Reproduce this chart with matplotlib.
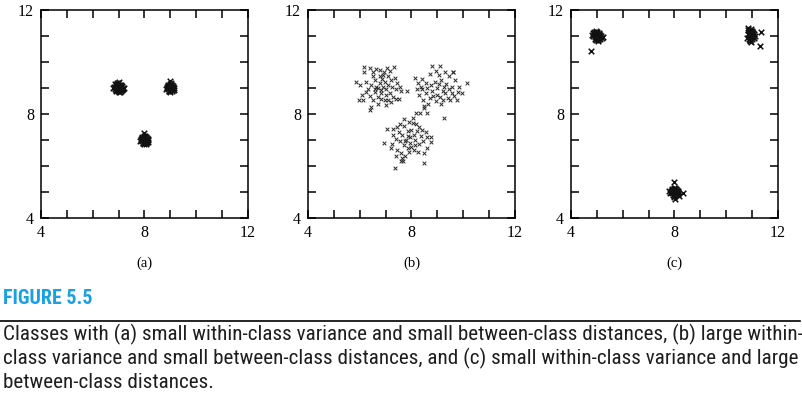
import matplotlib
matplotlib.use("Agg")
import matplotlib.pyplot as plt
from matplotlib import font_manager

# figure 5.5 - three class layouts, within-class variance vs between-class distance

# panel (a): small within-class variance, small between-class distances
a1_x = [6.85, 6.92, 7.01, 7.08, 6.97, 7.12, 6.88, 7.04, 6.95, 7.15, 6.90, 7.02, 7.09, 6.83, 6.99,
        7.06, 6.94, 7.18, 6.87, 7.03, 6.96, 7.11, 6.91, 7.00, 7.07, 6.93, 7.14, 6.98, 7.05, 6.89,
        7.22, 6.80, 7.01, 6.95, 7.10, 6.86, 7.04, 6.97, 7.13, 6.92]
a1_y = [9.05, 8.93, 9.12, 8.98, 9.02, 9.08, 8.90, 8.86, 9.15, 8.95, 9.10, 9.00, 8.88, 9.04, 8.96,
        9.07, 9.21, 9.01, 8.97, 8.92, 9.09, 9.13, 9.03, 8.84, 8.99, 9.06, 8.91, 9.18, 9.11, 8.94,
        8.99, 9.01, 9.25, 8.97, 9.04, 9.14, 9.00, 8.89, 8.95, 9.06]
a2_x = [8.95, 9.03, 8.89, 9.10, 9.00, 8.93, 9.06, 9.12, 8.97, 8.86, 9.04, 9.08, 8.91, 9.01, 8.98,
        9.15, 8.94, 9.02, 9.07, 8.88, 8.99, 9.11, 8.96, 9.05, 8.92, 9.00, 9.09, 8.84, 9.13, 8.98,
        8.95, 9.03, 9.06, 8.90, 9.01]
a2_y = [9.02, 8.95, 9.07, 9.00, 9.11, 8.88, 8.93, 9.05, 9.14, 8.99, 9.03, 8.91, 8.97, 9.20, 8.86,
        9.01, 9.09, 8.96, 9.12, 9.04, 8.92, 8.98, 9.06, 8.89, 9.13, 9.00, 9.08, 8.98, 8.94, 9.28,
        8.90, 9.10, 9.01, 9.05, 8.96]
a3_x = [7.95, 8.03, 7.89, 8.10, 8.00, 7.93, 8.06, 8.12, 7.97, 7.86, 8.04, 8.08, 7.91, 8.01, 7.98,
        8.15, 7.94, 8.02, 8.07, 7.88, 7.99, 8.11, 7.96, 8.05, 7.92, 8.00, 8.09, 7.84, 8.13, 7.98,
        7.95, 8.03, 8.06, 7.90, 8.01, 7.97, 8.04]
a3_y = [7.02, 6.95, 7.07, 7.00, 7.11, 6.88, 6.93, 7.05, 7.14, 6.99, 7.03, 6.91, 6.97, 7.16, 6.86,
        7.01, 7.09, 6.96, 7.12, 7.04, 6.92, 6.98, 7.06, 6.89, 7.13, 7.00, 7.08, 6.98, 6.94, 7.27,
        6.90, 7.10, 6.84, 7.05, 6.96, 7.01, 6.93]

# panel (b): large within-class variance, small between-class distances
b1_x = [6.17, 6.40, 6.62, 6.17, 6.80, 7.06, 7.15, 7.32, 5.87, 6.00, 6.08, 6.13, 5.98, 6.33, 6.45,
        6.58, 6.77, 6.90, 7.08, 7.22, 7.35, 6.58, 6.71, 6.84, 6.97, 7.03, 6.45, 6.38, 7.42, 7.52,
        7.61, 7.83, 7.42, 7.16, 6.64, 6.90, 7.03, 6.77, 7.10, 6.26, 6.52, 6.84, 7.29, 7.10, 6.71,
        7.23, 6.97, 6.84, 6.52, 6.26, 6.39, 6.95, 7.45, 6.70, 7.00, 6.50, 7.20, 6.60, 6.85, 7.55]
b1_y = [9.82, 9.78, 9.75, 9.62, 9.70, 9.76, 9.66, 9.82, 9.24, 9.10, 8.73, 8.55, 8.55, 8.96, 9.10,
        9.30, 9.45, 9.50, 9.45, 9.30, 9.38, 8.84, 8.65, 8.58, 8.52, 8.33, 8.28, 8.15, 8.58, 8.58,
        8.90, 8.90, 8.95, 8.82, 9.05, 9.05, 8.98, 9.18, 9.12, 8.84, 8.55, 8.80, 8.65, 8.52, 8.40,
        9.05, 9.25, 8.92, 9.45, 9.25, 8.70, 9.60, 9.18, 9.00, 8.75, 9.60, 8.45, 8.95, 9.35, 9.05]
b2_x = [8.81, 8.13, 10.13, 9.26, 8.19, 8.32, 8.61, 8.48, 9.29, 9.61, 8.70, 9.05, 9.45, 9.70, 8.40,
        8.55, 8.90, 9.15, 9.35, 9.55, 9.80, 9.95, 9.65, 9.40, 9.20, 9.10, 8.95, 8.70, 8.45, 8.30,
        8.20, 8.35, 8.60, 8.80, 9.00, 9.20, 9.45, 9.00, 8.85, 9.25, 8.65, 8.50, 9.50, 9.75, 9.60,
        8.95, 9.10, 8.25, 8.75, 9.30, 9.55, 8.55, 8.40, 9.05, 9.85, 9.15]
b2_y = [9.86, 9.40, 9.21, 7.86, 8.05, 8.05, 8.05, 8.22, 9.63, 9.63, 9.55, 9.50, 9.45, 9.30, 9.35,
        9.20, 9.25, 9.30, 9.15, 9.05, 8.85, 8.80, 8.70, 8.60, 8.55, 8.65, 8.50, 8.60, 8.55, 8.75,
        8.95, 9.05, 9.00, 8.90, 9.00, 8.90, 8.95, 8.75, 8.70, 9.05, 8.40, 8.30, 8.55, 8.55, 9.60,
        9.65, 9.85, 9.20, 9.10, 8.80, 8.80, 8.80, 8.95, 9.15, 9.05, 8.40]
b3_x = [7.35, 8.49, 8.49, 7.60, 7.66, 6.93, 7.06, 7.29, 8.77, 8.77, 8.19, 8.30, 7.55, 7.70, 7.90,
        8.05, 8.20, 8.40, 8.55, 8.60, 8.45, 8.30, 8.15, 8.00, 7.85, 7.70, 7.55, 7.40, 7.25, 7.20,
        7.45, 7.60, 7.75, 7.90, 8.10, 8.25, 7.80, 7.95, 8.10, 7.65, 7.85, 8.00, 7.50, 8.35, 7.70,
        7.30, 8.60, 7.95, 8.15, 7.75, 7.85, 7.40, 7.65, 8.05, 7.45]
b3_y = [5.91, 6.13, 6.49, 6.19, 6.19, 6.90, 7.41, 7.41, 7.10, 6.94, 7.60, 7.50, 7.62, 7.80, 7.70,
        7.65, 7.35, 7.40, 7.30, 7.10, 6.95, 6.85, 6.80, 6.75, 6.70, 6.80, 6.95, 7.05, 6.85, 6.70,
        6.60, 6.50, 6.40, 6.55, 6.60, 6.55, 7.00, 7.10, 7.20, 7.20, 7.35, 7.40, 7.30, 7.15, 7.55,
        7.20, 6.70, 6.90, 7.00, 6.95, 7.15, 6.40, 6.30, 7.85, 7.50]

# panel (c): small within-class variance, large between-class distances
c1_x = [4.95, 5.03, 4.89, 5.10, 5.00, 4.93, 5.06, 5.12, 4.97, 4.86, 5.04, 5.08, 4.91, 5.01, 4.98,
        5.15, 4.94, 5.02, 5.07, 4.88, 4.99, 5.11, 4.96, 5.05, 4.92, 5.00, 5.09, 4.80, 5.18, 4.98,
        4.77, 5.03, 5.06, 4.84, 5.13, 4.90, 5.22]
c1_y = [11.02, 10.95, 11.07, 11.00, 11.11, 10.88, 10.93, 11.05, 11.14, 10.99, 11.03, 10.91, 10.97,
        11.16, 10.86, 11.01, 11.09, 10.96, 11.12, 11.04, 10.92, 10.98, 11.06, 10.89, 11.13, 11.00,
        11.08, 11.02, 10.94, 11.20, 10.42, 10.80, 10.84, 11.10, 10.90, 11.17, 10.97]
c2_x = [10.85, 10.92, 10.97, 11.05, 10.88, 10.95, 11.02, 10.83, 10.90, 11.00, 11.08, 10.86, 10.93,
        10.98, 11.04, 10.89, 10.96, 11.01, 10.84, 10.91, 11.06, 10.94, 10.99, 10.87, 11.03, 10.90,
        10.97, 11.10, 11.35, 11.30, 10.82, 10.95, 11.00, 10.88]
c2_y = [11.25, 11.18, 11.10, 11.05, 11.12, 11.20, 11.00, 11.30, 10.95, 10.90, 11.08, 11.02, 10.85,
        11.14, 10.98, 10.88, 11.06, 11.16, 11.08, 10.80, 10.92, 10.97, 11.03, 11.22, 11.12, 10.86,
        11.28, 11.00, 11.15, 10.62, 10.93, 10.78, 11.20, 11.04]
c3_x = [7.95, 8.03, 7.89, 8.10, 8.00, 7.93, 8.06, 8.12, 7.97, 7.86, 8.04, 8.08, 7.91, 8.01, 7.98,
        8.15, 7.94, 8.02, 8.07, 7.88, 7.99, 8.11, 7.96, 8.05, 7.92, 8.00, 8.09, 7.84, 8.13, 7.98,
        7.97, 8.33, 8.18, 7.80, 8.02]
c3_y = [5.02, 4.95, 5.07, 5.00, 5.11, 4.88, 4.93, 5.05, 5.14, 4.99, 5.03, 4.91, 4.97, 5.16, 4.86,
        5.01, 5.09, 4.96, 5.12, 5.04, 4.92, 4.98, 5.06, 4.89, 5.13, 5.00, 5.08, 4.98, 4.94, 4.80,
        5.40, 4.95, 4.85, 5.05, 4.75]

panels = [
    ("(a)", [(a1_x, a1_y), (a2_x, a2_y), (a3_x, a3_y)], 41),
    ("(b)", [(b1_x, b1_y), (b2_x, b2_y), (b3_x, b3_y)], 308),
    ("(c)", [(c1_x, c1_y), (c2_x, c2_y), (c3_x, c3_y)], 571),
]

caption = [
    "Classes with (a) small within-class variance and small between-class distances, (b) large within-",
    "class variance and small between-class distances, and (c) small within-class variance and large",
    "between-class distances.",
]

W, H = 803, 398
fig = plt.figure(figsize=(W / 100, H / 100), dpi=100)

serif = ["Liberation Serif", "DejaVu Serif"]

# pick a narrow sans if one is around, else Roboto (narrower than DejaVu)
installed = {f.name for f in font_manager.fontManager.ttflist}
narrow = "Roboto"
for name in ["Roboto Condensed", "Liberation Sans Narrow", "DejaVu Sans Condensed",
             "Open Sans Condensed", "Noto Sans Condensed"]:
    if name in installed:
        narrow = name
        break

for label, clusters, left_px in panels:
    ax = fig.add_axes([left_px / W, 1 - 218 / H, 207 / W, 208 / H])
    dense = label != "(b)"
    for xs, ys in clusters:
        if dense:
            ax.scatter(xs, ys, marker="x", s=16, linewidths=1.1, color="#111111")
        else:
            ax.scatter(xs, ys, marker="x", s=7, linewidths=0.7, color="#2a2a2a")
    ax.set_xlim(4, 12)
    ax.set_ylim(4, 12)
    ax.set_xticks([4, 8, 12])
    ax.set_yticks([4, 8, 12])
    ax.set_xticks([5, 6, 7, 9, 10, 11], minor=True)
    ax.set_yticks([5, 6, 7, 9, 10, 11], minor=True)
    ax.tick_params(which="both", direction="in", top=True, right=True, length=6, width=1.1,
                   labelsize=11.5, pad=5)
    for t in ax.get_xticklabels() + ax.get_yticklabels():
        t.set_family(serif)
    for s in ax.spines.values():
        s.set_linewidth(1.1)
    fig.text((left_px + 103.5) / W, 1 - 263 / H, label, ha="center", va="center",
             fontsize=10.5, family=serif)

# caption block
head = fig.text(3 / W, 1 - 298 / H, "FIGURE 5.5", ha="left", va="center", fontsize=14,
                fontweight="bold", color="#1ba1e2", family=narrow, fontstretch="condensed")
fig.add_artist(plt.Line2D([0, 800 / W], [1 - 321 / H, 1 - 321 / H], color="black", lw=1.2))

lines = []
for i, line in enumerate(caption):
    lines.append(fig.text(3 / W, 1 - (334 + 24 * i) / H, line, ha="left", va="center",
                          fontsize=13, color="#1e1e1e", family=narrow, fontstretch="condensed"))

# shrink the caption so line 1 spans the width the reference gives it (~797 px)
fig.canvas.draw()
r = fig.canvas.get_renderer()
w1 = lines[0].get_window_extent(r).width
size = 13 * 796 / w1
for t in lines:
    t.set_fontsize(size)
wh = head.get_window_extent(r).width
head.set_fontsize(min(16, 14 * 90 / wh))

fig.savefig("out.png", dpi=100)
